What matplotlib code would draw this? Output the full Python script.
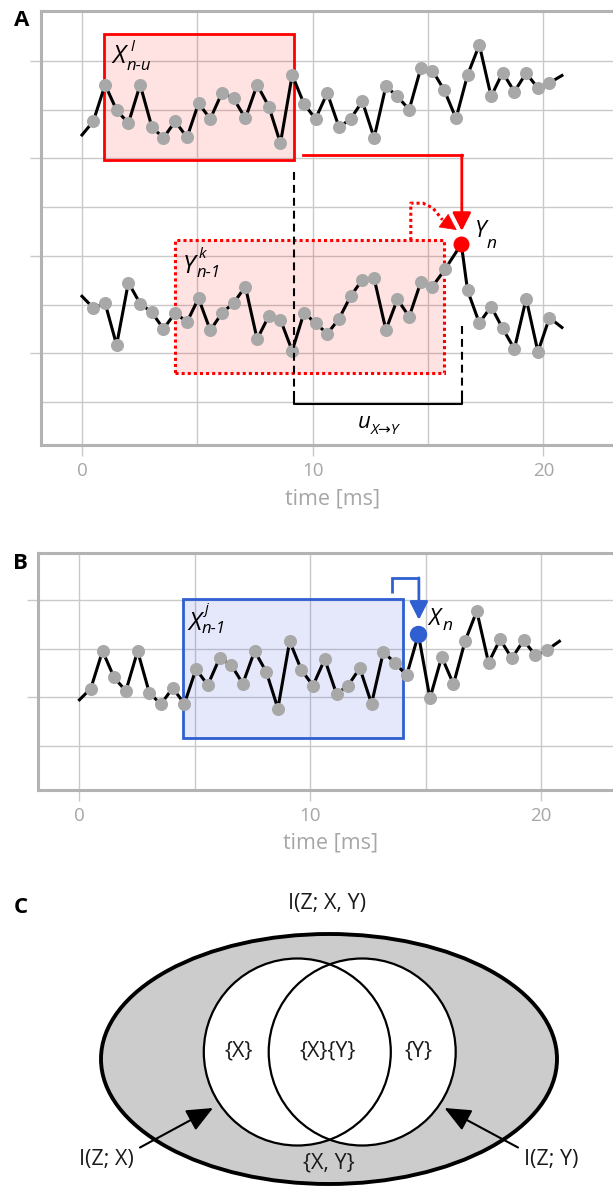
import matplotlib
matplotlib.use("Agg")
import matplotlib.pyplot as plt
from matplotlib.patches import Rectangle, Ellipse, Circle
from matplotlib.ticker import FixedLocator

plt.rcParams['font.family'] = ['Open Sans', 'DejaVu Sans']

# ---------------- data ----------------
t_samples = [0.49, 1.00, 1.50, 2.01, 2.52, 3.03, 3.53, 4.04, 4.55, 5.05,
             5.56, 6.07, 6.57, 7.08, 7.59, 8.10, 8.60, 9.11, 9.62, 10.12,
             10.63, 11.14, 11.64, 12.15, 12.66, 13.17, 13.67, 14.18, 14.69, 15.19,
             15.70, 16.21, 16.71, 17.22, 17.73, 18.23, 18.74, 19.25, 19.76, 20.26]
t_samples_y = [0.49, 1.00, 1.50, 2.01, 2.52, 3.03, 3.53, 4.04, 4.55, 5.05,
               5.56, 6.07, 6.57, 7.08, 7.59, 8.10, 8.60, 9.11, 9.62, 10.12,
               10.63, 11.14, 11.64, 12.15, 12.66, 13.17, 13.67, 14.18, 14.69, 15.19,
               15.74, 16.44, 16.71, 17.22, 17.73, 18.23, 18.74, 19.25, 19.76, 20.26]

# panel A, upper trace (source X)
x_signal_a = [5.76, 6.51, 5.99, 5.72, 6.51, 5.64, 5.42, 5.76, 5.43, 6.13,
              5.81, 6.35, 6.23, 5.82, 6.51, 6.06, 5.31, 6.71, 6.12, 5.81,
              6.34, 5.64, 5.81, 6.17, 5.42, 6.48, 6.27, 6.00, 6.86, 6.80,
              6.40, 5.82, 6.71, 7.33, 6.27, 6.76, 6.37, 6.75, 6.44, 6.55]
x_signal_a_ends = [5.48, 6.70]
# panel A, lower trace (target Y)
y_signal_a = [1.93, 2.03, 1.17, 2.45, 2.02, 1.84, 1.50, 1.83, 1.64, 2.13,
              1.47, 1.83, 2.03, 2.37, 1.29, 1.77, 1.69, 1.05, 1.83, 1.62,
              1.40, 1.71, 2.17, 2.51, 2.54, 1.48, 2.11, 1.75, 2.47, 2.37,
              2.73, 3.24, 2.29, 1.62, 1.96, 1.51, 1.09, 2.12, 1.03, 1.73]
y_signal_a_ends = [2.17, 1.53]
y_n_index = 31
# panel B trace (X)
x_signal_b = [1.18, 1.95, 1.41, 1.13, 1.95, 1.09, 0.86, 1.19, 0.87, 1.58,
              1.25, 1.80, 1.67, 1.28, 1.95, 1.52, 0.77, 2.15, 1.56, 1.24,
              1.78, 1.07, 1.24, 1.60, 0.87, 1.93, 1.71, 1.45, 2.29, 0.98,
              1.83, 1.27, 2.15, 2.77, 1.71, 2.19, 1.80, 2.17, 1.86, 1.97]
x_signal_b_ends = [0.95, 2.15]
x_n_index = 28
line_end_times = [0.0, 20.8]

x_major = [0, 10, 20]
x_minor = [5, 15]
x_tick_labels = ['0', '10', '20']
xlabel = 'time [ms]'

venn_labels = ['{X}', '{X}{Y}', '{Y}', '{X, Y}']
info_labels = ['I(Z; X, Y)', 'I(Z; X)', 'I(Z; Y)']

# ---------------- figure ----------------
W, H = 613, 1189
fig = plt.figure(figsize=(W / 100, H / 100), dpi=100)

GRID = '#c9c9c9'
SPINE = '#b3b3b3'
LABC = '#a6a6a6'
GRAY = '#a8a8a8'
RED = '#ff0000'
BLUE = '#2f5fd0'


def style_axes(ax, ymajor, yminor):
    for s in ax.spines.values():
        s.set_color(SPINE)
        s.set_linewidth(2.2)
    ax.xaxis.set_major_locator(FixedLocator(x_major))
    ax.xaxis.set_minor_locator(FixedLocator(x_minor))
    ax.yaxis.set_major_locator(FixedLocator(ymajor))
    ax.yaxis.set_minor_locator(FixedLocator(yminor))
    ax.set_xticklabels(x_tick_labels)
    ax.set_yticklabels([])
    ax.grid(True, which='both', color=GRID, lw=1.0)
    ax.set_axisbelow(True)
    ax.tick_params(which='major', length=8, width=1.0, color=GRID,
                   labelcolor=LABC, labelsize=13.5, pad=4)
    ax.tick_params(which='minor', length=0)
    ax.set_xlabel(xlabel, color=LABC, fontsize=15.5, labelpad=6)


def draw_trace(ax, times, vals, ends, hi=None, hi_color=None, hi_size=12):
    lt = [line_end_times[0]] + list(times) + [line_end_times[1]]
    lv = [ends[0]] + list(vals) + [ends[1]]
    ax.plot(lt, lv, color='black', lw=2.2, zorder=3, solid_joinstyle='miter')
    ax.plot(times, vals, ls='none', marker='o', ms=9.4, mfc=GRAY, mec='none', zorder=4)
    if hi is not None:
        ax.plot([times[hi]], [vals[hi]], ls='none', marker='o', ms=hi_size,
                mfc=hi_color, mec='none', zorder=5)


def italic(ax, x, y, s, size):
    ax.text(x, y, s, fontsize=size, style='italic', ha='left', va='baseline', zorder=6)


# ---------------- panel A ----------------
axA = fig.add_axes([41 / W, 1 - 445 / H, 583 / W, (445 - 10.7) / H])
axA.set_xlim(-1.777, 23.49)
axA.set_ylim(-0.882, 8.03)
style_axes(axA, [1, 3, 5, 7], [0, 2, 4, 6])

draw_trace(axA, t_samples, x_signal_a, x_signal_a_ends)
draw_trace(axA, t_samples_y, y_signal_a, y_signal_a_ends, hi=y_n_index, hi_color=RED, hi_size=11.5)

# solid box X^l_{n-u}
axA.add_patch(Rectangle((0.94, 4.96), 9.19 - 0.94, 7.56 - 4.96, facecolor=(1, 0, 0, 0.11),
                        edgecolor=RED, lw=2.0, zorder=2))
# dotted box Y^k_{n-1}
axA.add_patch(Rectangle((4.02, 0.60), 15.69 - 4.02, 3.32 - 0.60, facecolor=(1, 0, 0, 0.11),
                        edgecolor=RED, lw=2.2, ls=(0, (1, 1)), zorder=2))

# red solid arrow from X box to Y_n
axA.plot([9.58, 16.46], [5.07, 5.07], color=RED, lw=2.0, zorder=5, solid_capstyle='projecting')
axA.annotate('', xy=(16.46, 3.51), xytext=(16.46, 5.07),
             arrowprops=dict(arrowstyle='-|>,head_length=0.55,head_width=0.28', color=RED,
                             lw=2.0, mutation_scale=20, shrinkA=0, shrinkB=0), zorder=5)
# red dotted arrow from Y box to Y_n
axA.plot([14.25, 14.25, 14.78, 15.21, 15.62], [3.32, 4.08, 4.08, 3.98, 3.74],
         color=RED, lw=2.2, ls=(0, (1, 1)), zorder=5)
axA.annotate('', xy=(16.24, 3.53), xytext=(15.62, 3.74),
             arrowprops=dict(arrowstyle='-|>,head_length=0.55,head_width=0.28', color=RED,
                             lw=0.5, mutation_scale=20, shrinkA=0, shrinkB=0), zorder=5)

# dashed guides and bracket for u_{X->Y}
dash = (0, (3.8, 2.4))
axA.plot([9.19, 9.19], [4.72, 0.2], color='black', lw=1.5, ls=dash, zorder=5)
axA.plot([16.47, 16.47], [1.55, 0.2], color='black', lw=1.5, ls=dash, zorder=5)
axA.plot([9.19, 9.19, 16.47, 16.47], [0.2, -0.04, -0.04, 0.2], color='black', lw=1.5, zorder=5)

# labels A
italic(axA, 1.30, 6.95, 'X', 18)
italic(axA, 2.09, 7.20, 'l', 11)
italic(axA, 1.94, 6.81, 'n-u', 12)
italic(axA, 4.38, 2.64, 'Y', 18)
italic(axA, 5.07, 2.95, 'k', 11)
italic(axA, 4.97, 2.57, 'n-1', 12)
italic(axA, 17.02, 3.38, 'Y', 16.5)
italic(axA, 17.55, 3.17, 'n', 12.5)
italic(axA, 11.95, -0.53, 'u', 16)
axA.text(12.50, -0.66, 'X→Y', fontsize=11, style='italic', ha='left', va='baseline',
         family=['Open Sans', 'DejaVu Sans'])

# ---------------- panel B ----------------
axB = fig.add_axes([37.7 / W, 1 - 790 / H, (624 - 37.7) / W, (790 - 553) / H])
axB.set_xlim(-1.81, 23.6)
axB.set_ylim(-0.90, 3.96)
style_axes(axB, [1, 3], [0, 2])

draw_trace(axB, t_samples, x_signal_b, x_signal_b_ends, hi=x_n_index, hi_color=BLUE, hi_size=12.5)

axB.add_patch(Rectangle((4.49, 0.16), 14.01 - 4.49, 3.02 - 0.16, facecolor=(0.2, 0.33, 0.87, 0.13),
                        edgecolor=BLUE, lw=2.0, zorder=2))
axB.plot([13.54, 13.54, 14.71], [3.14, 3.45, 3.45], color=BLUE, lw=2.0, zorder=5,
         solid_joinstyle='miter', solid_capstyle='butt')
axB.annotate('', xy=(14.71, 2.59), xytext=(14.71, 3.45),
             arrowprops=dict(arrowstyle='-|>,head_length=0.55,head_width=0.28', color=BLUE,
                             lw=2.0, mutation_scale=20, shrinkA=0, shrinkB=0), zorder=5)

italic(axB, 4.70, 2.39, 'X', 18)
italic(axB, 5.45, 2.73, 'j', 11)
italic(axB, 5.30, 2.31, 'n-1', 12)
italic(axB, 15.10, 2.48, 'X', 16.5)
italic(axB, 15.72, 2.38, 'n', 12.5)

# ---------------- panel C ----------------
axC = fig.add_axes([0, 0, 1, 329 / H])
axC.set_xlim(0, W)
axC.set_ylim(H, 860)
axC.axis('off')

axC.add_patch(Ellipse((329, 1059), 456, 250, facecolor='#cccccc', edgecolor='black', lw=2.8, zorder=1))
axC.add_patch(Circle((297.3, 1052), 93.5, facecolor='white', edgecolor='none', zorder=2))
axC.add_patch(Circle((362.2, 1052), 93.5, facecolor='white', edgecolor='none', zorder=2))
axC.add_patch(Circle((297.3, 1052), 93.5, facecolor='none', edgecolor='black', lw=1.6, zorder=3))
axC.add_patch(Circle((362.2, 1052), 93.5, facecolor='none', edgecolor='black', lw=1.6, zorder=3))

tc = dict(fontsize=15.5, ha='center', va='center', color='#1a1a1a', zorder=5)
axC.text(239, 1051, venn_labels[0], **tc)
axC.text(328, 1051, venn_labels[1], **tc)
axC.text(418, 1051, venn_labels[2], **tc)
axC.text(329, 1163, venn_labels[3], **tc)
axC.text(327.5, 903, info_labels[0], **tc)
axC.text(106, 1160, info_labels[1], **tc)
axC.text(551, 1160, info_labels[2], **tc)

arr = dict(arrowstyle='-|>,head_length=0.8,head_width=0.35', color='black', lw=1.5,
           mutation_scale=20, shrinkA=0, shrinkB=0)
axC.annotate('', xy=(213, 1108), xytext=(140, 1147.5), arrowprops=arr, zorder=6)
axC.annotate('', xy=(444.5, 1108), xytext=(518, 1147.5), arrowprops=arr, zorder=6)

# panel letters
for letter, (px, py) in zip(['A', 'B', 'C'], [(13.7, 26), (13.3, 569), (13.7, 913)]):
    fig.text(px / W, 1 - py / H, letter, fontsize=16, weight='bold', ha='left', va='baseline')

fig.savefig('out.png', dpi=100)
